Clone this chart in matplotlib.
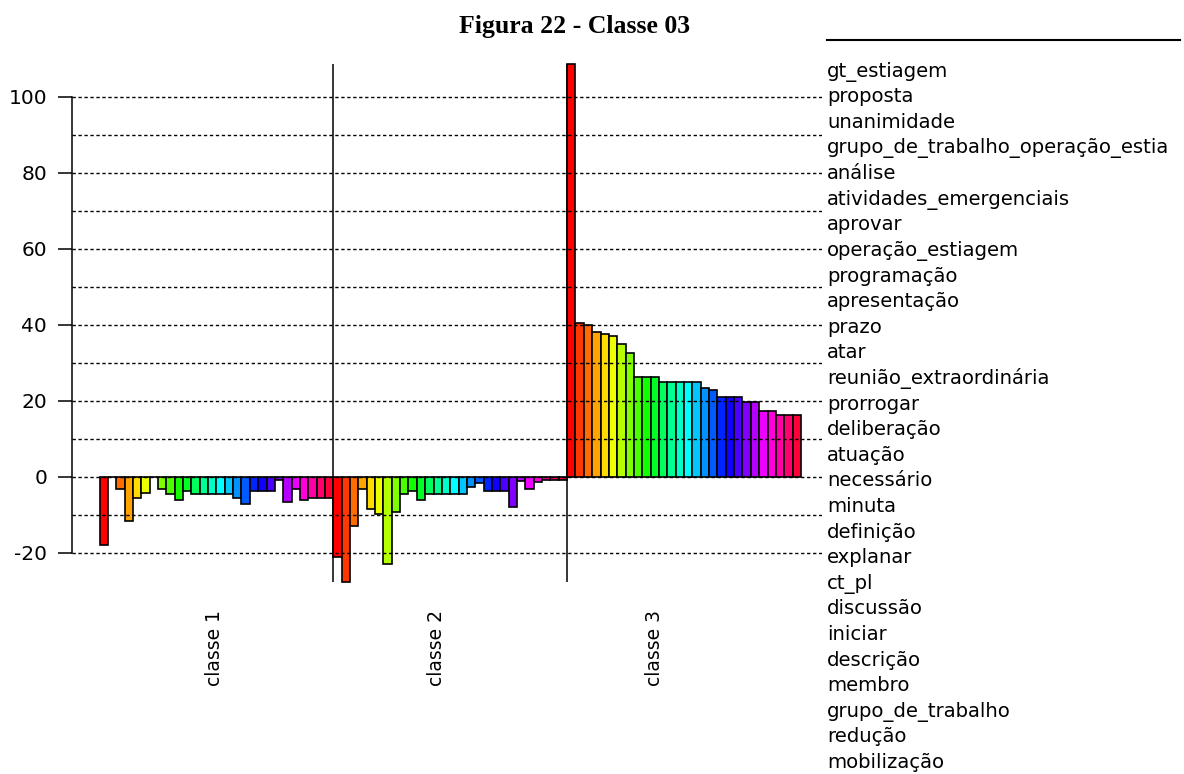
# chi2 profile per class - Figura 22 - Classe 03
import matplotlib
matplotlib.use('Agg')
import matplotlib.pyplot as plt
import numpy as np
from matplotlib.colors import hsv_to_rgb
from matplotlib.lines import Line2D

# words (same order in every class); the 4th one is cut at the picture edge
words = ['gt_estiagem', 'proposta', 'unanimidade',
         'grupo_de_trabalho_operação_estia', 'análise',
         'atividades_emergenciais', 'aprovar', 'operação_estiagem',
         'programação', 'apresentação', 'prazo', 'atar',
         'reunião_extraordinária', 'prorrogar', 'deliberação', 'atuação',
         'necessário', 'minuta', 'definição', 'explanar', 'ct_pl',
         'discussão', 'iniciar', 'descrição', 'membro', 'grupo_de_trabalho',
         'redução', 'mobilização']

classes = ['classe 1', 'classe 2', 'classe 3']

classe1 = [-18.0, 0.0, -3.2, -11.6, -5.6, -4.1, 0.0, -3.2, -4.5, -6.0, -3.7,
           -4.5, -4.5, -4.5, -4.5, -4.5, -5.6, -7.0, -3.7, -3.7, -3.7, -0.7,
           -6.5, -3.2, -6.1, -5.6, -5.6, -5.6]
classe2 = [-21.0, -27.5, -13.0, -3.2, -8.4, -9.7, -22.8, -9.3, -4.5, -3.7,
           -6.0, -4.5, -4.5, -4.5, -4.5, -4.5, -2.6, -1.7, -3.7, -3.7, -3.7,
           -8.0, -1.0, -3.2, -1.3, -0.7, -0.7, -0.7]
classe3 = [108.7, 40.5, 40.1, 38.1, 37.7, 37.2, 34.9, 32.6, 26.3, 26.3, 26.3,
           25.1, 25.1, 25.1, 25.1, 25.1, 23.5, 23.0, 21.0, 21.0, 21.0, 19.8,
           19.8, 17.3, 17.3, 16.3, 16.3, 16.3]

yticks = [-20, 0, 20, 40, 60, 80, 100]
grid_levels = list(range(-20, 101, 10))

W, H = 1184, 774
plt.rcParams['font.family'] = 'DejaVu Sans'
plt.rcParams['axes.unicode_minus'] = False
fig = plt.figure(figsize=(W / 100, H / 100), dpi=100)

# axes placed in pixels: x 72..822, y 55..590
ax = fig.add_axes([72 / W, 1 - 590 / H, 750 / W, 535 / H])
px0, pxw = 99.5, 8.35     # first bar left edge, bar width in pixels
ax.set_xlim((72 - px0) / pxw, (822 - px0) / pxw)
ax.set_ylim((477 - 590) / 3.8, (477 - 55) / 3.8)

n = len(words)
colors = [hsv_to_rgb((i / n, 1, 1)) for i in range(n)]

allvals = [classe1, classe2, classe3]
for k, vals in enumerate(allvals):
    x = np.arange(n) + k * n + 0.5
    ax.bar(x, vals, width=1.0, color=colors, edgecolor='black',
           linewidth=1.2, zorder=2)

# dotted gridlines on top of bars
for g in grid_levels:
    ax.axhline(g, color='black', lw=1.0, ls=(0, (2.4, 1.9)), zorder=3)

# class separators
vmin = min(min(v) for v in allvals)
vmax = max(max(v) for v in allvals)
for k in range(1, len(classes)):
    ax.vlines(k * n, vmin, vmax, color='black', lw=1.1, zorder=4)

# class labels under the bars
label_px = [214, 437, 654]
for lab, xp in zip(classes, label_px):
    ax.text((xp - px0) / pxw, (477 - 610) / 3.8, lab, rotation=90,
            ha='center', va='top', fontsize=13.5, clip_on=False)

for s in ['top', 'right', 'bottom']:
    ax.spines[s].set_visible(False)
ax.spines['left'].set_bounds(-20, 100)
ax.spines['left'].set_linewidth(1.1)
ax.set_xticks([])
ax.set_yticks(yticks)
ax.tick_params(axis='y', length=10, width=1.1, pad=8, labelsize=14.5)

# word list on the right
for i, w in enumerate(words):
    yb = 76.7 + 25.6 * i
    fig.text(827 / W, 1 - yb / H, w, ha='left', va='baseline', fontsize=14.1)

fig.add_artist(Line2D([827 / W, 1180 / W], [1 - 40 / H, 1 - 40 / H],
                      color='black', lw=1.5))

fig.text(575 / W, 1 - 27 / H, 'Figura 22 - Classe 03', ha='center',
         va='center', fontsize=18.5, fontweight='bold',
         family='Liberation Serif')

fig.savefig('out.png', dpi=100)
